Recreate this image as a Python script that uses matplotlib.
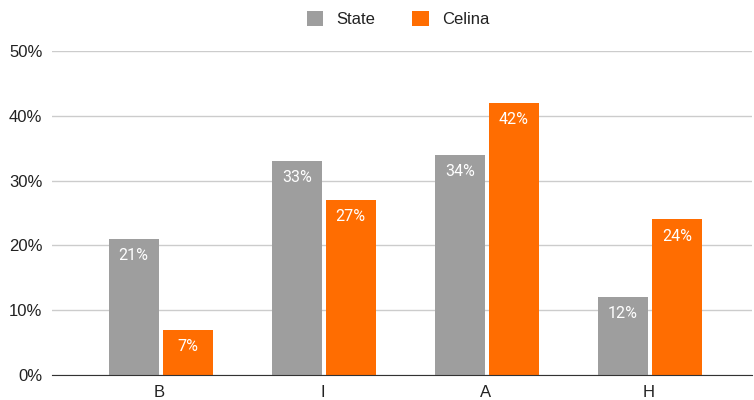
import matplotlib
matplotlib.use("Agg")
import matplotlib.pyplot as plt
from matplotlib.ticker import FuncFormatter
import numpy as np

plt.rcParams['font.family'] = ['Liberation Sans', 'DejaVu Sans']

categories = ["B", "I", "A", "H"]
state = [21, 33, 34, 12]
celina = [7, 27, 42, 24]
series_names = ["State", "Celina"]
colors = ["#9e9e9e", "#ff6d01"]

fig = plt.figure(figsize=(7.54, 4.0), dpi=100)
ax = fig.add_axes([0.069, 0.0625, 0.928, 0.81])

x = np.arange(len(categories))
width = 0.306
offsets = [-0.159, 0.171]

for vals, off, col, name in zip([state, celina], offsets, colors, series_names):
    bars = ax.bar(x + off, vals, width=width, color=col, label=name, zorder=3)
    for b, v in zip(bars, vals):
        ax.annotate(f"{v}%", (b.get_x() + b.get_width() / 2, v),
                    xytext=(0, -6.5), textcoords="offset points",
                    ha="center", va="top", color="white", fontsize=11.5,
                    family=["Roboto", "DejaVu Sans"], zorder=4)

ax.set_ylim(0, 50)
ax.set_xlim(-0.66, 3.63)
ax.set_yticks(range(0, 51, 10))
ax.yaxis.set_major_formatter(FuncFormatter(lambda v, p: f"{int(v)}%"))
ax.set_xticks(x)
ax.set_xticklabels(categories)
ax.grid(axis="y", color="#cccccc", linewidth=1, zorder=0)
for s in ["top", "right", "left"]:
    ax.spines[s].set_visible(False)
ax.spines["bottom"].set_color("#333333")
ax.spines["bottom"].set_zorder(5)
ax.tick_params(axis="both", length=0, labelsize=12, colors="#222222")
ax.tick_params(axis="y", pad=7)
ax.tick_params(axis="x", pad=7)

fig.legend(loc="upper center", bbox_to_anchor=(0.528, 1.01), ncol=2, frameon=False,
           fontsize=12, handlelength=1.0, handleheight=1.0, columnspacing=2.2,
           handletextpad=0.8, labelcolor="#222222")

fig.savefig("out.png", dpi=100)
